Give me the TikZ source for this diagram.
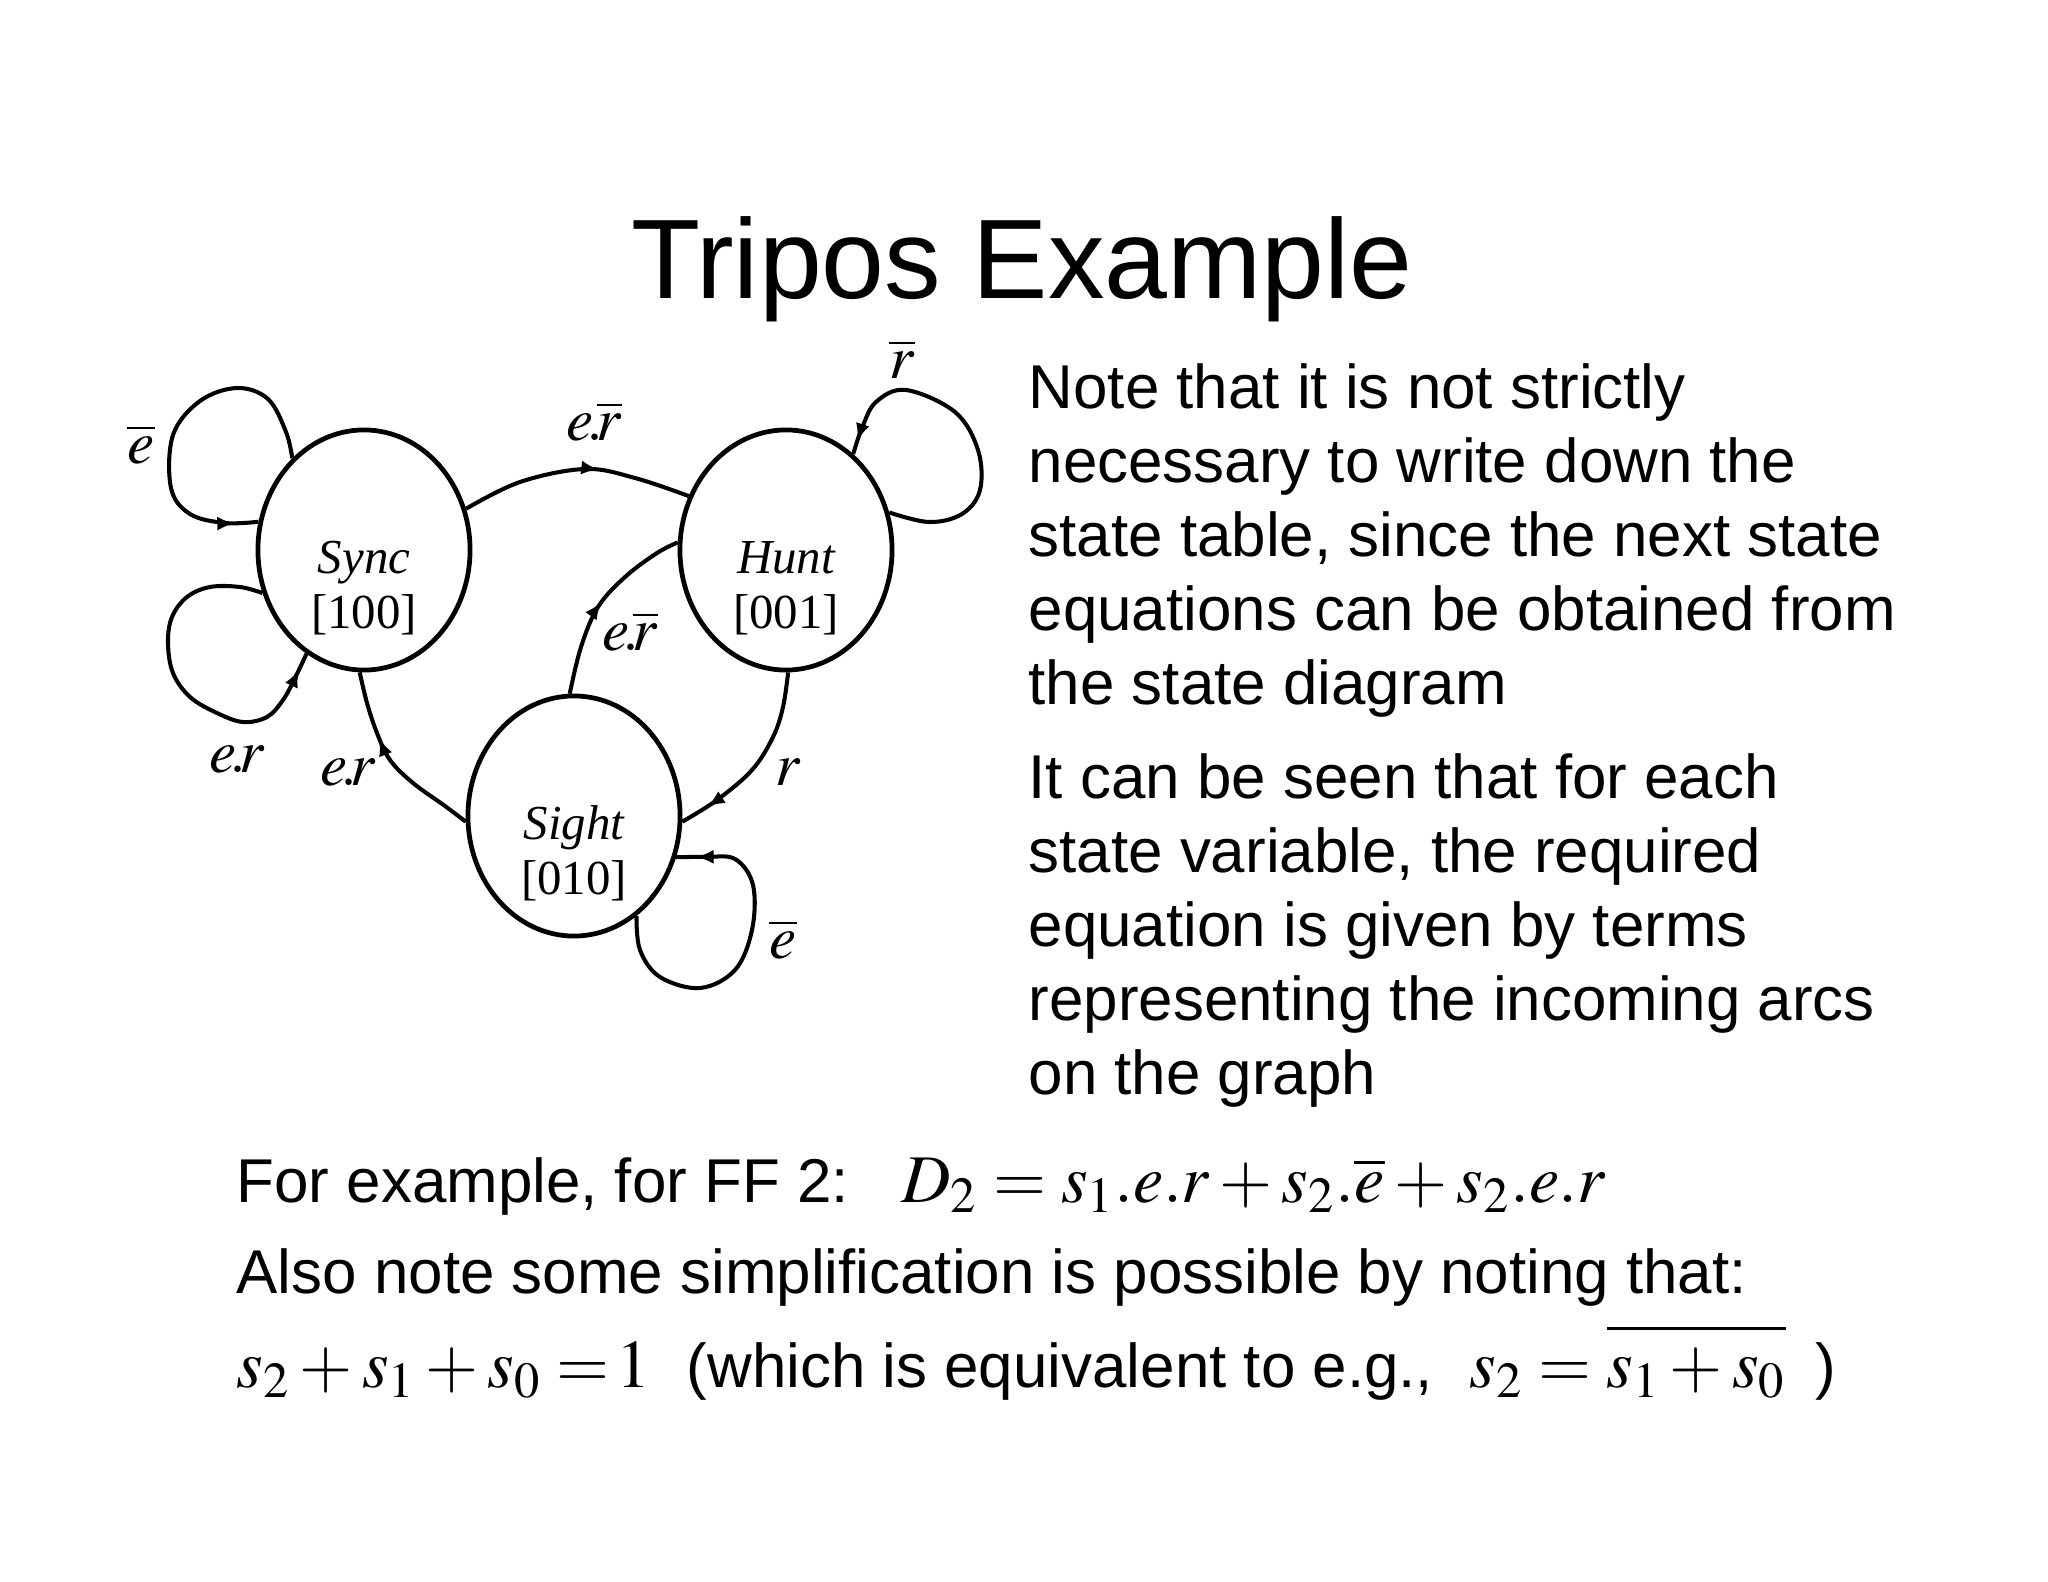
\documentclass[tikz,border=0pt]{standalone}
\usepackage{mathptmx}
\usepackage[no-math]{fontspec}
\setmainfont{Liberation Sans}
\newfontfamily\tms{Liberation Serif}
\usetikzlibrary{shapes.geometric,arrows.meta,decorations.markings,calc}

\begin{document}
\begin{tikzpicture}[
  x=0.01cm, y=-0.01cm,
  state/.style={ellipse, draw, line width=1.35pt, minimum width=2.12cm, minimum height=2.4cm, inner sep=0pt},
  stname/.style={anchor=base, inner sep=0pt, font=\tms\fontsize{13.9}{16}\selectfont},
  lbl/.style={anchor=base, inner sep=0pt, font=\fontsize{17.4}{20}\selectfont},
  trans/.style={line width=1.15pt, postaction={decorate},
    decoration={markings, mark=at position #1 with {\arrow{Latex[length=5pt,width=4pt]}}}},
  title/.style={anchor=base, inner sep=0pt, font=\fontsize{32.15}{38}\selectfont},
  body/.style={anchor=north west, inner sep=0pt, align=left, font=\fontsize{17.6}{21.05}\selectfont},
  line/.style={anchor=base west, inner sep=0pt, font=\fontsize{17.6}{21.05}\selectfont},
  eqn/.style={anchor=base west, inner sep=0pt, font=\fontsize{19.4}{24}\selectfont}
]
\useasboundingbox (0,0) rectangle (2048,1582);

\node[title] (title) at (1022,298) {Tripos Example};

\node[state] (sync) at (364,550) {};
\node[state] (hunt) at (786,550) {};
\node[state] (sight) at (574,816) {};

\node[stname] (syncname) at ($(sync.center)+(0,23)$) {\itshape Sync};
\node[stname] (synccode) at ($(sync.center)+(0,78)$) {[100]};
\node[stname] (huntname) at ($(hunt.center)+(0,23)$) {\itshape Hunt};
\node[stname] (huntcode) at ($(hunt.center)+(0,78)$) {[001]};
\node[stname] (sightname) at ($(sight.center)+(0,23)$) {\itshape Sight};
\node[stname] (sightcode) at ($(sight.center)+(0,78)$) {[010]};

\draw[trans=0.93] plot[smooth, tension=0.6] coordinates {(sync.128) (286,432) (268,399) (237,388) (200,401) (173,435) (171,488) (190,514) (225,523) (sync.165)};
\draw[trans=0.95] plot[smooth, tension=0.6] coordinates {(sync.203) (240,587) (210,587) (187,597) (172,617) (168,643) (173,673) (190,697) (217,713) (243,722) (267,717) (283,700) (295,678) (sync.241)};
\draw[trans=0.6] plot[smooth, tension=0.6] coordinates {(sync.22) (520,482) (585,469) (635,478) (hunt.151)};
\draw[trans=0.5] plot[smooth, tension=0.6] coordinates {(sight.92) (581,647) (598,607) (625,577) (657,553) (hunt.176)};
\draw[trans=0.85] plot[smooth, tension=0.6] coordinates {(hunt.271) (783,707) (773,737) (752,770) (717,800) (sight.357)};
\draw[trans=0.64] plot[smooth, tension=0.6] coordinates {(sight.183) (445,806) (413,783) (390,760) (377,733) (367,703) (sync.268)};
\draw[trans=0.96] plot[smooth, tension=0.6] coordinates {(hunt.20) (929,522) (962,514) (980,490) (978,450) (955,412) (906,390) (876,402) (862,428) (hunt.55)};
\draw[trans=0.94] plot[smooth, tension=0.6] coordinates {(sight.302) (640,950) (660,977) (700,988) (735,970) (752,930) (753,885) (735,859) (705,857) (sight.338)};

\node[lbl] (synchold) at (141,463) {$\overline{e}$};
\node[lbl] (synctohunt) at (594,440) {$e\!.\!\overline{r}$};
\node[lbl] (hunthold) at (902,378) {$\overline{r}$};
\node[lbl] (sighttohunt) at (630,650) {$e\!.\!\overline{r}$};
\node[lbl] (syncloop) at (237,772) {$e\!.\!r$};
\node[lbl] (sighttosync) at (348,785) {$e\!.\!r$};
\node[lbl] (hunttosight) at (788,785) {$r$};
\node[lbl] (sighthold) at (783,958) {$\overline{e}$};

\node[body] (notea) at (1028,363) {Note that it is not strictly\\necessary to write down the\\state table, since the next state\\equations can be obtained from\\the state diagram};
\node[body] (noteb) at (1028,753) {It can be seen that for each\\state variable, the required\\equation is given by terms\\representing the incoming arcs\\on the graph};

\node[line] (forex) at (236,1202) {For example, for FF 2:};
\node[eqn] (dtwo) at (901,1202) {$D_2 = s_1.e.r + s_2.\overline{e} + s_2.e.r$};
\node[line] (also) at (236,1293) {Also note some simplification is possible by noting that:};
\node[eqn] (sumone) at (236,1387) {$s_2 + s_1 + s_0 =\!1$};
\node[line] (which) at (686,1387) {(which is equivalent to e.g.,};
\node[eqn] (equiv) at (1469,1387) {$s_2 = \overline{\rule{0pt}{0.72em}s_1 + s_0}$};
\node[line] (close) at (1815,1387) {)};
\end{tikzpicture}
\end{document}
